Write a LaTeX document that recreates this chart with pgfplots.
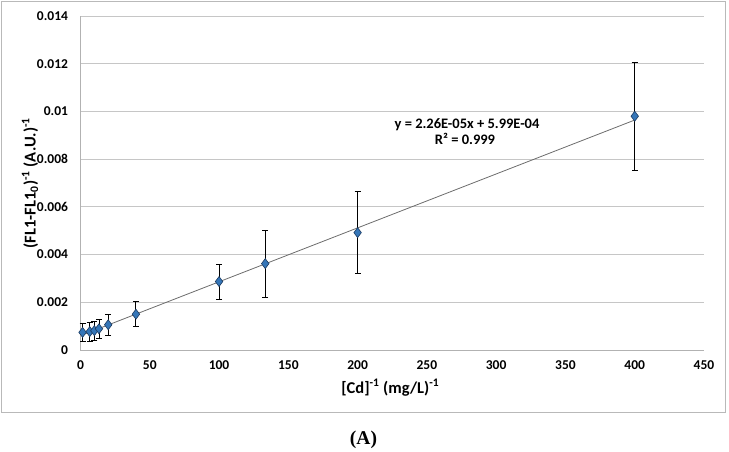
\documentclass[border=0pt]{standalone}
\usepackage{pgfplots}
\pgfplotsset{compat=1.18}
\usepackage{fontspec}
\setmainfont{Carlito}
\newfontfamily\serifA{Liberation Serif}
\definecolor{mblue}{HTML}{3576B8}
\definecolor{mdark}{HTML}{1C3A60}
\begin{document}
\begin{tikzpicture}[x=1pt,y=1pt]
\path[use as bounding box] (0,0) rectangle (729,-451);
\draw[gray!55, line width=1.2pt] (1.5,-1.8) rectangle (725.8,-412.5);
\begin{axis}[
  at={(80.5pt,-350pt)}, anchor=south west,
  scale only axis, width=623.5pt, height=334pt,
  xmin=0, xmax=450, ymin=0, ymax=0.014,
  xtick={0,50,100,150,200,250,300,350,400,450},
  ytick={0,0.002,0.004,0.006,0.008,0.01,0.012,0.014},
  yticklabels={0,0.002,0.004,0.006,0.008,0.01,0.012,0.014},
  scaled y ticks=false,
  axis x line*=bottom, axis y line*=left,
  axis line style={-, gray!60, line width=0.8pt},
  ymajorgrids, grid style={gray!45, line width=0.8pt},
  major tick length=0pt,
  tick label style={font=\fontsize{13.5}{15}\selectfont\bfseries},
  /pgf/number format/assume math mode=true,
  xticklabel style={yshift=-7pt},
  yticklabel style={xshift=-9pt},
  xlabel={[Cd]\textsuperscript{-1} (mg/L)\textsuperscript{-1}},
  ylabel={(FL1-FL1\textsubscript{0})\textsuperscript{-1} (A.U.)\textsuperscript{-1}},
  label style={font=\fontsize{16.5}{18}\selectfont\bfseries},
  xlabel style={at={(axis description cs:0.5,0)}, anchor=base, yshift=-43pt, xshift=-2pt},
  ylabel style={at={(axis description cs:-0.0810,0.5)}, anchor=center, rotate=0},
  clip=false,
]
\addplot[gray!85!black, line width=0.8pt] coordinates {(1.5,0.000633) (400,0.009639)};
\addplot[only marks, mark=diamond*, mark size=5pt,
  mark options={fill=mblue, draw=mdark, line width=0.6pt},
  error bars/.cd, y dir=both, y explicit,
  error bar style={black, line width=0.9pt},
  error mark options={rotate=90, black, mark size=3pt, line width=0.9pt}]
coordinates {
(1.5, 0.00074) +- (0, 0.00038)
(6.67, 0.00077) +- (0, 0.00040)
(10, 0.00081) +- (0, 0.00040)
(13.33, 0.00089) +- (0, 0.00040)
(20, 0.00106) +- (0, 0.00044)
(40, 0.0015) +- (0, 0.00052)
(100, 0.00287) +- (0, 0.00073)
(133.33, 0.00362) +- (0, 0.0014)
(200, 0.00492) +- (0, 0.00172)
(400, 0.0098) +- (0, 0.00227)
};
\end{axis}
\node[anchor=base, font=\fontsize{14.5}{16}\selectfont\bfseries] at (467,-128) {y = 2.26E-05x + 5.99E-04};
\node[anchor=base, font=\fontsize{14.5}{16}\selectfont\bfseries] at (465,-144) {R² = 0.999};
\node[anchor=base, font=\fontsize{19.5}{21}\selectfont\serifA\bfseries] at (363.5,-444) {(A)};
\end{tikzpicture}
\end{document}
